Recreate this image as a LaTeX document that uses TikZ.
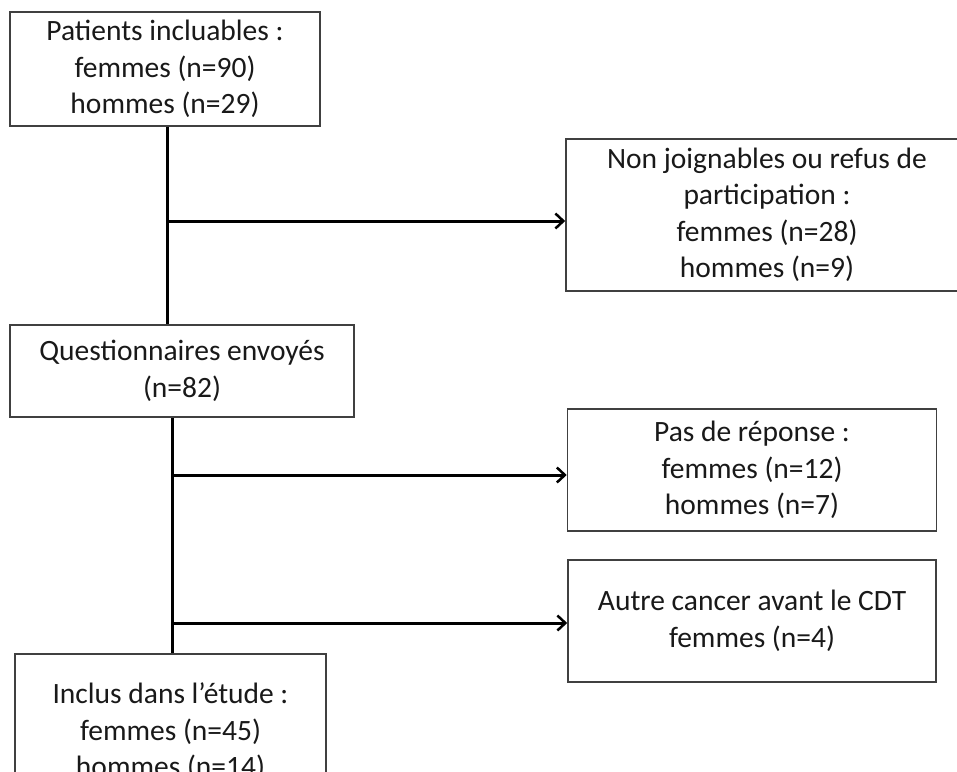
\documentclass[tikz,border=0pt]{standalone}
\usepackage{fontspec}
\setmainfont{Carlito}
\usetikzlibrary{positioning}
\usetikzlibrary{arrows.meta}

\tikzset{
  flowbox/.style={draw=black!75, line width=1.6pt, fill=white, align=center, inner sep=0pt,
    text=black!90, font=\fontsize{29.5}{36.5}\selectfont},
  flowline/.style={black, line width=3pt},
  flowarrow/.style={flowline, -{Straight Barb[length=8pt,width=15pt,line width=2.5pt]}}
}

\begin{document}
\begin{tikzpicture}[x=1pt, y=-1pt]

\useasboundingbox (0,0) rectangle (957,771);
\clip (0,0) rectangle (957,771);

% boxes
\node[flowbox, minimum width=310pt, minimum height=114pt] (patients) at (165,69)
{Patients incluables :\\femmes (n=90)\\hommes (n=29)};

\node[flowbox, minimum width=402pt, minimum height=152pt] (nonjoin) at (767,215)
{Non joignables ou refus de\\participation :\\femmes (n=28)\\hommes (n=9)};

\node[flowbox, minimum width=344pt, minimum height=92pt] (quest) at (182,371)
{Questionnaires envoyés\\(n=82)};

\node[flowbox, minimum width=369pt, minimum height=122pt] (pasrep) at (752,470)
{Pas de réponse :\\femmes (n=12)\\hommes (n=7)};

\node[flowbox, minimum width=368pt, minimum height=122pt] (autre) at (752,621)
{Autre cancer avant le CDT\\femmes (n=4)};

\node[flowbox, minimum width=311pt, minimum height=156pt] (inclus) at (170.5,732)
{Inclus dans l’étude :\\femmes (n=45)\\hommes (n=14)};

% junctions
\coordinate (j1) at (167,221);
\coordinate (j2) at (172,475);
\coordinate (j3) at (172,623);

% connectors
\draw[flowline] (patients.south -| j1) -- (quest.north -| j1);
\draw[flowarrow] (j1) -- (j1 -| nonjoin.west);

\draw[flowline] (quest.south -| j2) -- (inclus.north -| j2);
\draw[flowarrow] (j2) -- (j2 -| pasrep.west);
\draw[flowarrow] (j3) -- (j3 -| autre.west);

\end{tikzpicture}
\end{document}
